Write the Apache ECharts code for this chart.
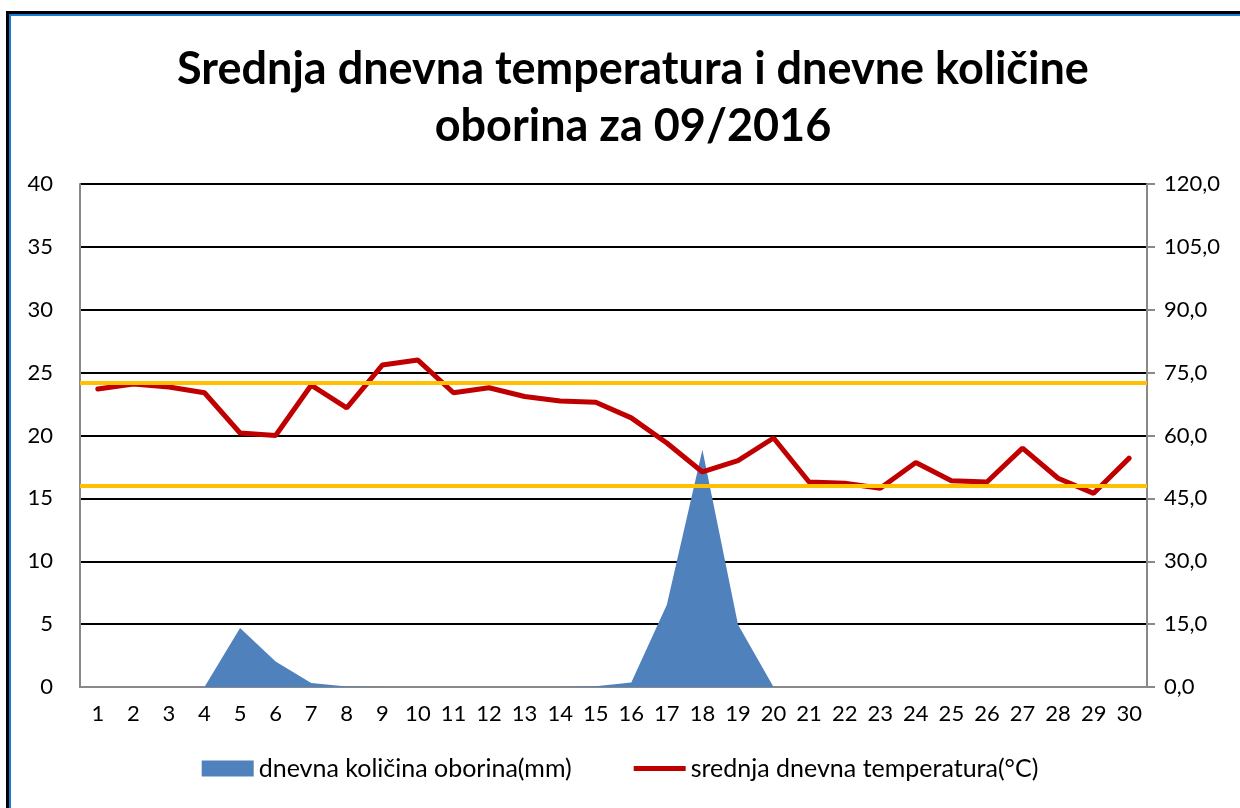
<!DOCTYPE html>
<html>
<head>
<meta charset="utf-8">
<script src="https://cdn.jsdelivr.net/npm/echarts@6/dist/echarts.min.js"></script>
<style>
  html, body { margin: 0; padding: 0; background: #fff; }
  #chart { width: 1240px; height: 808px; }
  /* okvir kao u izvornom dokumentu */
  #frame {
    position: absolute; left: 6px; top: 11px; width: 1300px; height: 900px;
    border-left: 3px solid #000; border-top: 3px solid #000;
    box-sizing: border-box; pointer-events: none;
  }
  #frame div {
    position: absolute; left: 0; top: 0; right: 0; bottom: 0;
    border-left: 2px solid #1a7ad4; border-top: 2px solid #1a7ad4;
  }
</style>
</head>
<body>
<div id="chart"></div>
<div id="frame"><div></div></div>
<script>
// dani u mjesecu
const days = Array.from({ length: 30 }, (_, i) => String(i + 1))
// srednja dnevna temperatura (°C) - lijeva os
const temperature = [23.7, 24.1, 23.85, 23.4, 20.2, 20.0, 24.0, 22.2, 25.6, 26.0,
  23.4, 23.8, 23.1, 22.75, 22.65, 21.4, 19.4, 17.1, 18.0, 19.8,
  16.3, 16.2, 15.8, 17.85, 16.4, 16.3, 19.0, 16.6, 15.4, 18.2]
// dnevna kolicina oborina (mm) - desna os
const precipitation = [0, 0, 0, 0, 14.1, 6.1, 0.95, 0.1, 0, 0,
  0, 0, 0, 0, 0.2, 1.1, 19.6, 56.6, 14.9, 0,
  0, 0, 0, 0, 0, 0, 0, 0, 0, 0]
// referentne linije (°C)
const refLines = [24.2, 16.0]

const font = 'Lato, "Open Sans", sans-serif'

const chart = echarts.init(document.getElementById('chart'), null, { renderer: 'canvas' })
chart.setOption({
  animation: false,
  title: {
    text: 'Srednja dnevna temperatura i dnevne količine\noborina za 09/2016',
    left: 628,
    top: 36,
    textAlign: 'center',
    textStyle: {
      fontFamily: font,
      fontWeight: 'bold',
      fontSize: 45,
      lineHeight: 57,
      color: '#000'
    }
  },
  legend: {
    bottom: 22,
    left: 'center',
    itemWidth: 52,
    itemHeight: 16,
    itemGap: 62,
    symbolKeepAspect: true,
    textStyle: { fontFamily: font, fontSize: 25, color: '#000' },
    data: [
      { name: 'dnevna količina oborina(mm)', icon: 'rect' },
      { name: 'srednja dnevna temperatura(°C)', icon: 'path://M0,0 L52,0 L52,5 L0,5 Z' }
    ]
  },
  grid: { left: 80, top: 184, width: 1067, height: 503 },
  xAxis: {
    type: 'category',
    data: days,
    boundaryGap: true,
    axisLine: { lineStyle: { color: '#898989', width: 2 } },
    axisTick: { show: false },
    axisLabel: { color: '#000', fontFamily: font, fontSize: 22, margin: 16, interval: 0 }
  },
  yAxis: [
    {
      type: 'value',
      min: 0, max: 40, interval: 5,
      axisLine: { show: true, lineStyle: { color: '#898989', width: 2 } },
      axisTick: { show: false },
      axisLabel: { color: '#000', fontFamily: font, fontSize: 22, margin: 27 },
      splitLine: { lineStyle: { color: '#000', width: 2 } }
    },
    {
      type: 'value',
      min: 0, max: 120, interval: 15,
      position: 'right',
      axisLine: { show: true, lineStyle: { color: '#898989', width: 2 } },
      axisTick: { show: true, length: 8, lineStyle: { color: '#898989', width: 2 } },
      axisLabel: {
        color: '#000', fontFamily: font, fontSize: 22, margin: 17,
        formatter: v => v.toFixed(1).replace('.', ',')
      },
      splitLine: { show: false }
    }
  ],
  series: [
    {
      name: 'dnevna količina oborina(mm)',
      type: 'line',
      yAxisIndex: 1,
      data: precipitation,
      symbol: 'none',
      lineStyle: { width: 0 },
      itemStyle: { color: '#4F81BD' },
      areaStyle: { color: '#4F81BD', opacity: 1 },
      z: 2
    },
    {
      name: 'srednja dnevna temperatura(°C)',
      type: 'line',
      yAxisIndex: 0,
      data: temperature,
      symbol: 'none',
      itemStyle: { color: '#C00000' },
      lineStyle: { color: '#C00000', width: 5, cap: 'round' },
      z: 3,
      markLine: {
        silent: true,
        symbol: 'none',
        z: 5,
        label: { show: false },
        lineStyle: { color: '#FFC000', width: 4, type: 'solid' },
        data: refLines.map(v => ({ yAxis: v }))
      }
    }
  ]
})
</script>
</body>
</html>
